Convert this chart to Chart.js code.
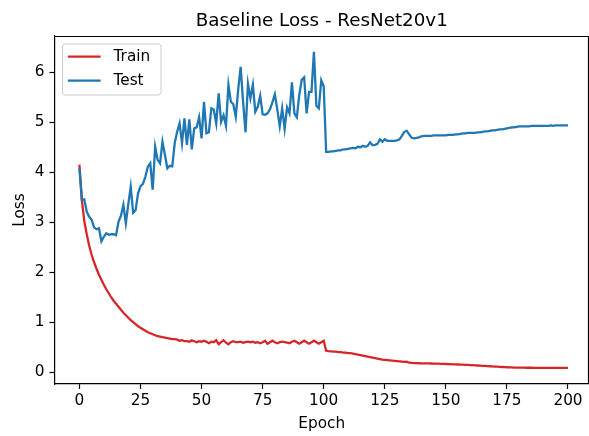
<!DOCTYPE html>
<html>
<head>
<meta charset="utf-8">
<script src="https://cdn.jsdelivr.net/npm/chart.js@4.4.1/dist/chart.umd.min.js"></script>
<style>
  html, body { margin: 0; padding: 0; background: #ffffff; }
  #wrap { width: 589px; height: 436px; }
</style>
</head>
<body>
<div id="wrap"><canvas id="c" width="589" height="436"></canvas></div>
<script>
const chartTitle = 'Baseline Loss - ResNet20v1';
const xAxisLabel = 'Epoch';
const yAxisLabel = 'Loss';
const seriesNames = ['Train', 'Test'];
const xTickValues = [0, 25, 50, 75, 100, 125, 150, 175, 200];
const yTickValues = [0, 1, 2, 3, 4, 5, 6];

const epochs = Array.from({length: 201}, (_, i) => i);

const trainLoss = [
  4.15, 3.45, 3.02, 2.76, 2.53, 2.35, 2.20, 2.07, 1.95, 1.85,
  1.75, 1.66, 1.58, 1.50, 1.43, 1.37, 1.31, 1.25, 1.19, 1.14,
  1.09, 1.04, 1.00, 0.96, 0.92, 0.89, 0.86, 0.83, 0.80, 0.78,
  0.76, 0.74, 0.72, 0.71, 0.70, 0.69, 0.68, 0.67, 0.66, 0.66,
  0.65, 0.63, 0.64, 0.62, 0.62, 0.61, 0.64, 0.62, 0.60, 0.62,
  0.61, 0.63, 0.61, 0.58, 0.61, 0.60, 0.64, 0.56, 0.60, 0.64,
  0.59, 0.56, 0.60, 0.62, 0.60, 0.60, 0.61, 0.59, 0.60, 0.61,
  0.60, 0.61, 0.59, 0.60, 0.58, 0.60, 0.63, 0.57, 0.60, 0.63,
  0.60, 0.58, 0.60, 0.61, 0.60, 0.59, 0.58, 0.61, 0.63, 0.60,
  0.57, 0.60, 0.63, 0.60, 0.57, 0.60, 0.63, 0.60, 0.57, 0.60,
  0.63, 0.43, 0.42, 0.415, 0.41, 0.41, 0.40, 0.40, 0.39, 0.39,
  0.38, 0.38, 0.37, 0.36, 0.35, 0.34, 0.33, 0.32, 0.31, 0.30,
  0.29, 0.28, 0.27, 0.26, 0.25, 0.245, 0.24, 0.235, 0.23, 0.225,
  0.22, 0.215, 0.21, 0.205, 0.21, 0.19, 0.185, 0.183, 0.180, 0.179,
  0.178, 0.177, 0.176, 0.175, 0.174, 0.173, 0.172, 0.170, 0.168, 0.166,
  0.164, 0.162, 0.160, 0.158, 0.156, 0.154, 0.152, 0.150, 0.148, 0.146,
  0.143, 0.140, 0.137, 0.134, 0.131, 0.128, 0.125, 0.122, 0.119, 0.116,
  0.113, 0.110, 0.107, 0.104, 0.101, 0.099, 0.097, 0.095, 0.093, 0.092,
  0.091, 0.090, 0.090, 0.089, 0.089, 0.089, 0.088, 0.088, 0.088, 0.088,
  0.087, 0.087, 0.087, 0.087, 0.087, 0.086, 0.086, 0.086, 0.086, 0.086,
  0.086
];

const testLoss = [
  4.08, 3.45, 3.46, 3.21, 3.11, 3.05, 2.90, 2.86, 2.88, 2.62,
  2.71, 2.78, 2.75, 2.76, 2.76, 2.74, 3.01, 3.13, 3.35, 2.98,
  3.36, 3.71, 3.19, 3.24, 3.58, 3.72, 3.77, 3.91, 4.11, 4.18,
  3.65, 4.51, 4.25, 4.18, 4.61, 4.35, 4.08, 4.13, 4.12, 4.58,
  4.81, 4.98, 4.58, 5.08, 4.55, 5.06, 4.46, 4.88, 4.90, 5.10,
  4.68, 5.41, 4.78, 4.80, 5.28, 5.25, 4.98, 5.58, 5.01, 5.14,
  4.93, 5.75, 5.41, 5.36, 5.11, 5.66, 6.11, 5.41, 4.80, 5.77,
  5.48, 5.75, 5.21, 5.31, 5.53, 5.16, 5.15, 5.18, 5.26, 5.40,
  5.56, 5.26, 4.92, 5.28, 4.87, 5.30, 5.18, 5.80, 5.18, 5.10,
  5.55, 5.85, 5.90, 5.18, 5.61, 5.61, 6.41, 5.33, 5.28, 5.84,
  5.72, 4.41, 4.41, 4.42, 4.42, 4.43, 4.44, 4.44, 4.46, 4.46,
  4.47, 4.48, 4.49, 4.48, 4.51, 4.50, 4.53, 4.51, 4.53, 4.60,
  4.54, 4.55, 4.57, 4.66, 4.61, 4.66, 4.63, 4.63, 4.63, 4.63,
  4.64, 4.66, 4.73, 4.81, 4.83, 4.76, 4.69, 4.68, 4.69, 4.70,
  4.72, 4.73, 4.73, 4.73, 4.73, 4.74, 4.74, 4.74, 4.74, 4.74,
  4.74, 4.75, 4.75, 4.75, 4.76, 4.76, 4.77, 4.78, 4.78, 4.79,
  4.79, 4.79, 4.79, 4.80, 4.80, 4.81, 4.82, 4.82, 4.83, 4.84,
  4.84, 4.85, 4.86, 4.86, 4.87, 4.88, 4.89, 4.90, 4.90, 4.91,
  4.92, 4.92, 4.92, 4.92, 4.92, 4.93, 4.93, 4.93, 4.93, 4.93,
  4.93, 4.93, 4.93, 4.94, 4.93, 4.94, 4.94, 4.94, 4.94, 4.94,
  4.94
];

const seriesColors = ['#d62728', '#1f77b4'];
const FONT = 'DejaVu Sans';
const TICK_PX = 15.3;
const LINE_W = 2.3;

// Top & right spines + matplotlib-style legend box
const framePlugin = {
  id: 'frame',
  afterDatasetsDraw(chart) {
    const ctx = chart.ctx;
    const a = chart.chartArea;
    ctx.save();
    ctx.strokeStyle = '#000';
    ctx.lineWidth = 1.2;
    ctx.beginPath();
    ctx.moveTo(a.left, a.top + 0.5);
    ctx.lineTo(a.right - 0.5, a.top + 0.5);
    ctx.lineTo(a.right - 0.5, a.bottom);
    ctx.stroke();

    // legend
    const bx = a.left + 8, by = a.top + 8, bw = 98.5, bh = 51;
    const r = 3;
    ctx.beginPath();
    ctx.moveTo(bx + r, by);
    ctx.lineTo(bx + bw - r, by);
    ctx.quadraticCurveTo(bx + bw, by, bx + bw, by + r);
    ctx.lineTo(bx + bw, by + bh - r);
    ctx.quadraticCurveTo(bx + bw, by + bh, bx + bw - r, by + bh);
    ctx.lineTo(bx + r, by + bh);
    ctx.quadraticCurveTo(bx, by + bh, bx, by + bh - r);
    ctx.lineTo(bx, by + r);
    ctx.quadraticCurveTo(bx, by, bx + r, by);
    ctx.closePath();
    ctx.fillStyle = 'rgba(255,255,255,0.8)';
    ctx.fill();
    ctx.strokeStyle = '#cccccc';
    ctx.lineWidth = 1;
    ctx.stroke();

    ctx.font = TICK_PX + 'px "' + FONT + '"';
    ctx.textBaseline = 'middle';
    ctx.textAlign = 'left';
    const rows = [by + 12.7, by + 36.7];
    chart.data.datasets.slice().sort((p, q) => p.legendIndex - q.legendIndex).forEach((ds, i) => {
      const y = rows[i];
      ctx.strokeStyle = ds.borderColor;
      ctx.lineWidth = LINE_W;
      ctx.lineCap = 'square';
      ctx.beginPath();
      ctx.moveTo(bx + 6.5, y);
      ctx.lineTo(bx + 37, y);
      ctx.stroke();
      ctx.fillStyle = '#000';
      ctx.fillText(ds.label, bx + 51, y + 0.5);
    });
    ctx.restore();
  }
};

new Chart(document.getElementById('c'), {
  type: 'line',
  data: {
    labels: epochs,
    datasets: [
      {
        label: seriesNames[0],
        data: trainLoss,
        borderColor: seriesColors[0],
        backgroundColor: seriesColors[0],
        borderWidth: LINE_W,
        pointRadius: 0,
        tension: 0,
        fill: false,
        order: 1,
        legendIndex: 0
      },
      {
        label: seriesNames[1],
        data: testLoss,
        borderColor: seriesColors[1],
        backgroundColor: seriesColors[1],
        borderWidth: LINE_W,
        pointRadius: 0,
        tension: 0,
        fill: false,
        order: 0,
        legendIndex: 1
      }
    ]
  },
  options: {
    responsive: false,
    animation: false,
    devicePixelRatio: 1,
    layout: { padding: { left: 0, right: 0, top: 0, bottom: 0 } },
    plugins: {
      legend: { display: false },
      tooltip: { enabled: false },
      title: {
        display: true,
        text: chartTitle,
        fullSize: false,
        color: '#000',
        font: { family: FONT, size: 18.3, weight: 'normal' },
        padding: { top: 10.4, bottom: 3.64 }
      }
    },
    scales: {
      x: {
        type: 'linear',
        min: -10.2,
        max: 208.6,
        afterBuildTicks: s => { s.ticks = xTickValues.map(v => ({ value: v })); },
        afterFit: s => { s.height = 52; },
        ticks: {
          autoSkip: false,
          maxRotation: 0,
          minRotation: 0,
          color: '#000',
          padding: 3,
          font: { family: FONT, size: TICK_PX },
          callback: v => String(v)
        },
        grid: {
          display: true,
          drawOnChartArea: false,
          drawTicks: true,
          tickLength: 5,
          tickWidth: 1.2,
          tickColor: '#000'
        },
        border: { display: true, color: '#000', width: 1.2 },
        title: {
          display: true,
          text: xAxisLabel,
          color: '#000',
          font: { family: FONT, size: TICK_PX },
          padding: { top: 0, bottom: 2.3 }
        }
      },
      y: {
        type: 'linear',
        min: -0.236,
        max: 6.727,
        afterBuildTicks: s => { s.ticks = yTickValues.map(v => ({ value: v })); },
        afterFit: s => { s.width = 54.5; },
        ticks: {
          color: '#000',
          padding: 5,
          font: { family: FONT, size: TICK_PX },
          callback: v => String(v)
        },
        grid: {
          display: true,
          drawOnChartArea: false,
          drawTicks: true,
          tickLength: 5,
          tickWidth: 1.2,
          tickColor: '#000'
        },
        border: { display: true, color: '#000', width: 1.2 },
        title: {
          display: true,
          text: yAxisLabel,
          color: '#000',
          font: { family: FONT, size: TICK_PX },
          padding: { top: 10.8, bottom: 0 }
        }
      }
    }
  },
  plugins: [framePlugin]
});
</script>
</body>
</html>
